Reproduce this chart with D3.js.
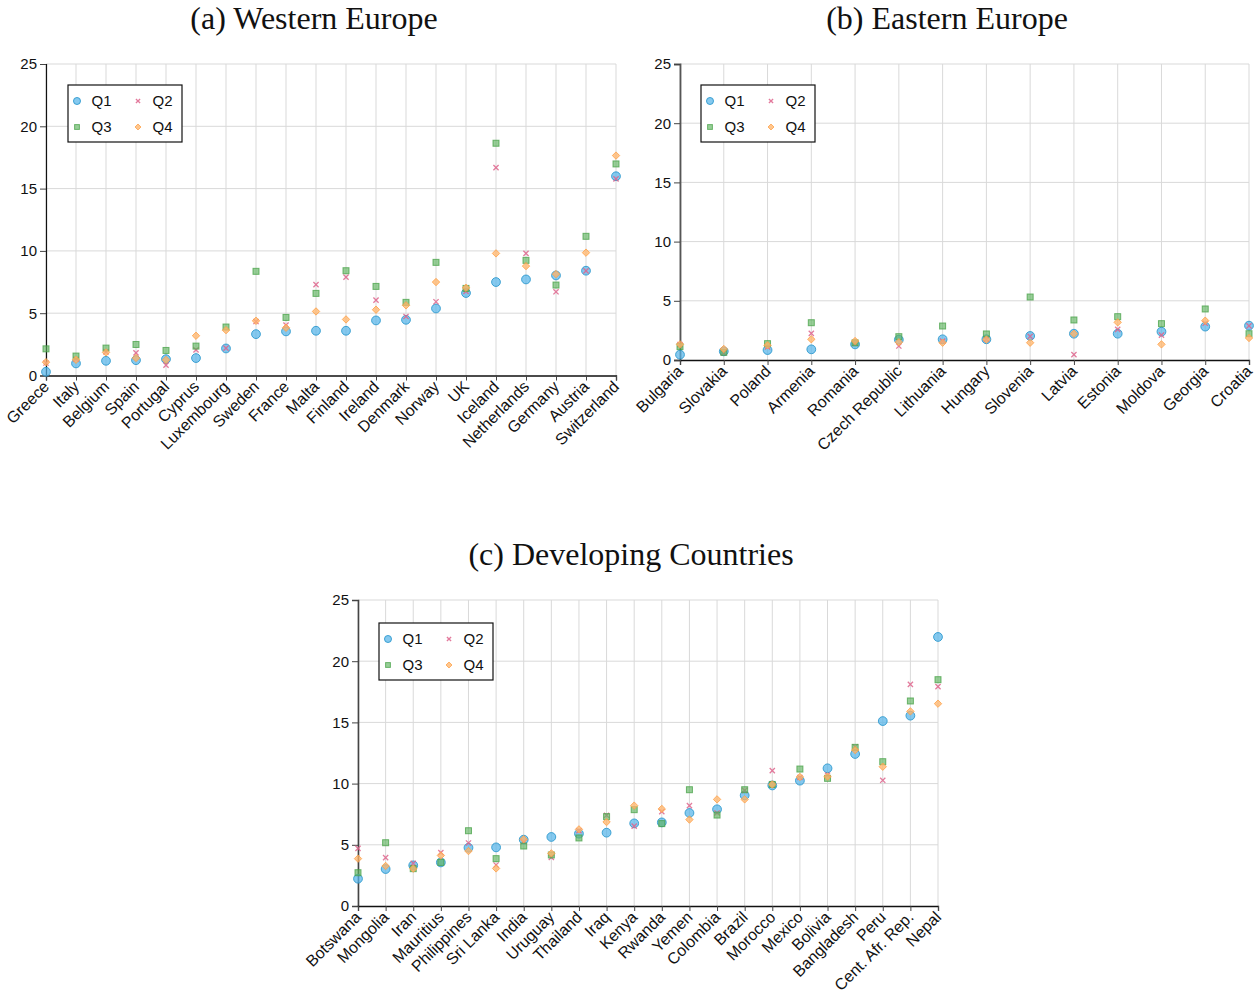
<!DOCTYPE html>
<html>
<head>
<meta charset="utf-8">
<script src="https://cdn.jsdelivr.net/npm/d3@7"></script>
<style>
  html, body { margin: 0; padding: 0; background: #fff; }
  svg { display: block; }
</style>
</head>
<body>
<svg id="chart" width="1258" height="993"></svg>
<script>
// Shared y ticks
const yTicks = [0, 5, 10, 15, 20, 25];
const seriesNames = ["Q1", "Q2", "Q3", "Q4"];

// (a) Western Europe
const westCountries = ["Greece", "Italy", "Belgium", "Spain", "Portugal", "Cyprus", "Luxembourg", "Sweden", "France", "Malta", "Finland", "Ireland", "Denmark", "Norway", "UK", "Iceland", "Netherlands", "Germany", "Austria", "Switzerland"];
const westQ1 = [0.3, 0.97, 1.18, 1.23, 1.31, 1.4, 2.17, 3.32, 3.54, 3.59, 3.59, 4.42, 4.47, 5.38, 6.62, 7.5, 7.71, 8.03, 8.41, 15.99];
const westQ2 = [1.0, 1.3, 1.9, 1.82, 0.83, 2.06, 2.2, 4.33, 4.05, 7.29, 7.9, 6.05, 4.74, 5.92, 6.75, 16.68, 9.8, 6.72, 8.4, 15.78];
const westQ3 = [2.14, 1.56, 2.2, 2.49, 2.01, 2.36, 3.89, 8.36, 4.66, 6.59, 8.41, 7.15, 5.87, 9.08, 6.99, 18.64, 9.24, 7.26, 11.17, 16.98];
const westQ4 = [1.07, 1.26, 1.85, 1.4, 1.25, 3.19, 3.64, 4.39, 3.83, 5.14, 4.5, 5.28, 5.63, 7.5, 7.04, 9.8, 8.78, 8.14, 9.86, 17.65];

// (b) Eastern Europe
const eastCountries = ["Bulgaria", "Slovakia", "Poland", "Armenia", "Romania", "Czech Republic", "Lithuania", "Hungary", "Slovenia", "Latvia", "Estonia", "Moldova", "Georgia", "Croatia"];
const eastQ1 = [0.45, 0.73, 0.84, 0.9, 1.32, 1.72, 1.75, 1.75, 2.03, 2.22, 2.22, 2.39, 2.82, 2.9];
const eastQ2 = [1.3, 0.6, 1.1, 2.25, 1.4, 1.18, 1.6, 1.75, 2.0, 0.45, 2.59, 2.1, 3.1, 2.88];
const eastQ3 = [1.13, 0.65, 1.38, 3.15, 1.45, 1.97, 2.87, 2.2, 5.32, 3.38, 3.66, 3.07, 4.31, 2.22];
const eastQ4 = [1.32, 0.93, 1.24, 1.75, 1.6, 1.5, 1.46, 1.73, 1.46, 2.22, 3.18, 1.32, 3.32, 1.86];

// (c) Developing Countries
const devCountries = ["Botswana", "Mongolia", "Iran", "Mauritius", "Philippines", "Sri Lanka", "India", "Uruguay", "Thailand", "Iraq", "Kenya", "Rwanda", "Yemen", "Colombia", "Brazil", "Morocco", "Mexico", "Bolivia", "Bangladesh", "Peru", "Cent. Afr. Rep.", "Nepal"];
const devQ1 = [2.23, 3.02, 3.32, 3.56, 4.76, 4.79, 5.42, 5.64, 5.91, 5.99, 6.75, 6.83, 7.6, 7.9, 9.04, 9.85, 10.24, 11.25, 12.42, 15.11, 15.55, 21.98];
const devQ2 = [4.71, 3.95, 3.49, 4.36, 5.15, 3.35, 5.25, 3.97, 6.15, 7.41, 6.53, 7.71, 8.2, 7.6, 9.45, 11.06, 10.5, 10.7, 13.01, 10.27, 18.11, 17.92];
const devQ3 = [2.72, 5.17, 3.05, 3.56, 6.15, 3.87, 4.9, 4.17, 5.56, 7.3, 7.87, 6.73, 9.5, 7.43, 9.5, 9.93, 11.19, 10.43, 12.96, 11.79, 16.75, 18.49];
const devQ4 = [3.87, 3.27, 3.05, 4.13, 4.49, 3.07, 5.45, 4.3, 6.26, 6.86, 8.2, 7.93, 7.06, 8.71, 8.71, 9.93, 10.54, 10.57, 12.74, 11.38, 15.9, 16.53];

const svg = d3.select("#chart");
const sans = "'Liberation Sans', Arial, Helvetica, sans-serif";
const serif = "'Liberation Serif', 'Times New Roman', serif";

// Marker styles per quartile series
const styles = {
  Q1: { fill: "rgba(86,180,233,0.72)", stroke: "rgba(40,150,205,0.85)" },
  Q2: { stroke: "rgba(222,100,140,0.85)" },
  Q3: { fill: "rgba(95,180,95,0.65)", stroke: "rgba(70,160,70,0.75)" },
  Q4: { fill: "rgba(255,180,105,0.75)", stroke: "rgba(255,160,70,0.8)" }
};

function drawMarker(g, name, x, y, scale) {
  const s = scale || 1;
  const st = styles[name];
  if (name === "Q1") {
    g.append("circle").attr("cx", x).attr("cy", y).attr("r", 4.4 * s)
      .attr("fill", st.fill).attr("stroke", st.stroke).attr("stroke-width", 1);
  } else if (name === "Q2") {
    const d = 2.6 * s;
    g.append("path")
      .attr("d", `M${x - d},${y - d}L${x + d},${y + d}M${x - d},${y + d}L${x + d},${y - d}`)
      .attr("stroke", st.stroke).attr("stroke-width", 1.3).attr("fill", "none");
  } else if (name === "Q3") {
    const h = 3.0 * s;
    g.append("rect").attr("x", x - h).attr("y", y - h).attr("width", 2 * h).attr("height", 2 * h)
      .attr("fill", st.fill).attr("stroke", st.stroke).attr("stroke-width", 1);
  } else {
    const h = 3.7 * s;
    g.append("path")
      .attr("d", `M${x},${y - h}L${x + h},${y}L${x},${y + h}L${x - h},${y}Z`)
      .attr("fill", st.fill).attr("stroke", st.stroke).attr("stroke-width", 1);
  }
}

function drawPanel(cfg) {
  const g = svg.append("g");
  const x = d3.scalePoint().domain(cfg.countries).range([cfg.x0, cfg.x1]).padding(0);
  const y = d3.scaleLinear().domain([0, 25]).range([cfg.y0, cfg.y1]);

  // grid
  g.append("g").selectAll("line").data(yTicks.filter(t => t > 0)).join("line")
    .attr("x1", cfg.x0).attr("x2", cfg.x1)
    .attr("y1", d => y(d)).attr("y2", d => y(d))
    .attr("stroke", "#d9d9d9").attr("stroke-width", 1);
  g.append("g").selectAll("line").data(cfg.countries).join("line")
    .attr("x1", d => x(d)).attr("x2", d => x(d))
    .attr("y1", cfg.y0).attr("y2", cfg.y1)
    .attr("stroke", "#d9d9d9").attr("stroke-width", 1);

  // y axis
  const ya = g.append("g").attr("transform", `translate(${cfg.x0},0)`)
    .call(d3.axisLeft(y).tickValues(yTicks).tickSize(6).tickPadding(3));
  ya.select(".domain").attr("stroke", cfg.yAxisColor).attr("stroke-width", cfg.yAxisWidth);
  ya.selectAll(".tick line").attr("stroke", "#444");
  ya.selectAll(".tick text").attr("font-family", sans).attr("font-size", 15).attr("fill", "#111");

  // x axis
  const xa = g.append("g").attr("transform", `translate(0,${cfg.y0})`)
    .call(d3.axisBottom(x).tickSize(5).tickFormat(""));
  xa.select(".domain").attr("stroke", "#111").attr("stroke-width", 1.3);
  xa.selectAll(".tick line").attr("stroke", "#444");
  g.append("g").selectAll("text").data(cfg.countries).join("text")
    .attr("transform", d => `translate(${x(d) - 4},${cfg.y0 + 4}) rotate(-45)`)
    .attr("text-anchor", "end").attr("dy", "0.72em")
    .attr("font-family", sans).attr("font-size", 16).attr("fill", "#111")
    .text(d => d);

  // points
  const pts = g.append("g");
  seriesNames.forEach((name, si) => {
    cfg.series[si].forEach((v, i) => drawMarker(pts, name, x(cfg.countries[i]), y(v)));
  });

  // legend
  const lg = g.append("g").attr("transform", `translate(${cfg.legX},${cfg.legY})`);
  lg.append("rect").attr("x", 0).attr("y", 0).attr("width", 114).attr("height", 57)
    .attr("fill", "#fff").attr("stroke", "#111").attr("stroke-width", 1.2);
  const pos = [[9, 16], [70, 16], [9, 42], [70, 42]];
  seriesNames.forEach((name, i) => {
    const [lx, ly] = pos[i];
    drawMarker(lg, name, lx, ly, 0.8);
    lg.append("text").attr("x", lx + 14.5).attr("y", ly).attr("dy", "0.36em")
      .attr("font-family", sans).attr("font-size", 15).attr("fill", "#111").text(name);
  });

  // title
  svg.append("text").attr("x", cfg.titleX).attr("y", cfg.titleY)
    .attr("text-anchor", "middle").attr("font-family", serif).attr("font-size", 32)
    .attr("fill", "#111").text(cfg.title);
}

drawPanel({
  title: "(a) Western Europe", titleX: 314, titleY: 29,
  countries: westCountries, series: [westQ1, westQ2, westQ3, westQ4],
  x0: 46, x1: 616, y0: 375.5, y1: 64,
  legX: 68, legY: 85, yAxisColor: "#111", yAxisWidth: 1.2
});
drawPanel({
  title: "(b) Eastern Europe", titleX: 947, titleY: 29,
  countries: eastCountries, series: [eastQ1, eastQ2, eastQ3, eastQ4],
  x0: 680, x1: 1249, y0: 360, y1: 64,
  legX: 701, legY: 85, yAxisColor: "#555", yAxisWidth: 1.8
});
drawPanel({
  title: "(c) Developing Countries", titleX: 631, titleY: 565,
  countries: devCountries, series: [devQ1, devQ2, devQ3, devQ4],
  x0: 358, x1: 938, y0: 906, y1: 600,
  legX: 379, legY: 623, yAxisColor: "#444", yAxisWidth: 1.6
});
</script>
</body>
</html>
